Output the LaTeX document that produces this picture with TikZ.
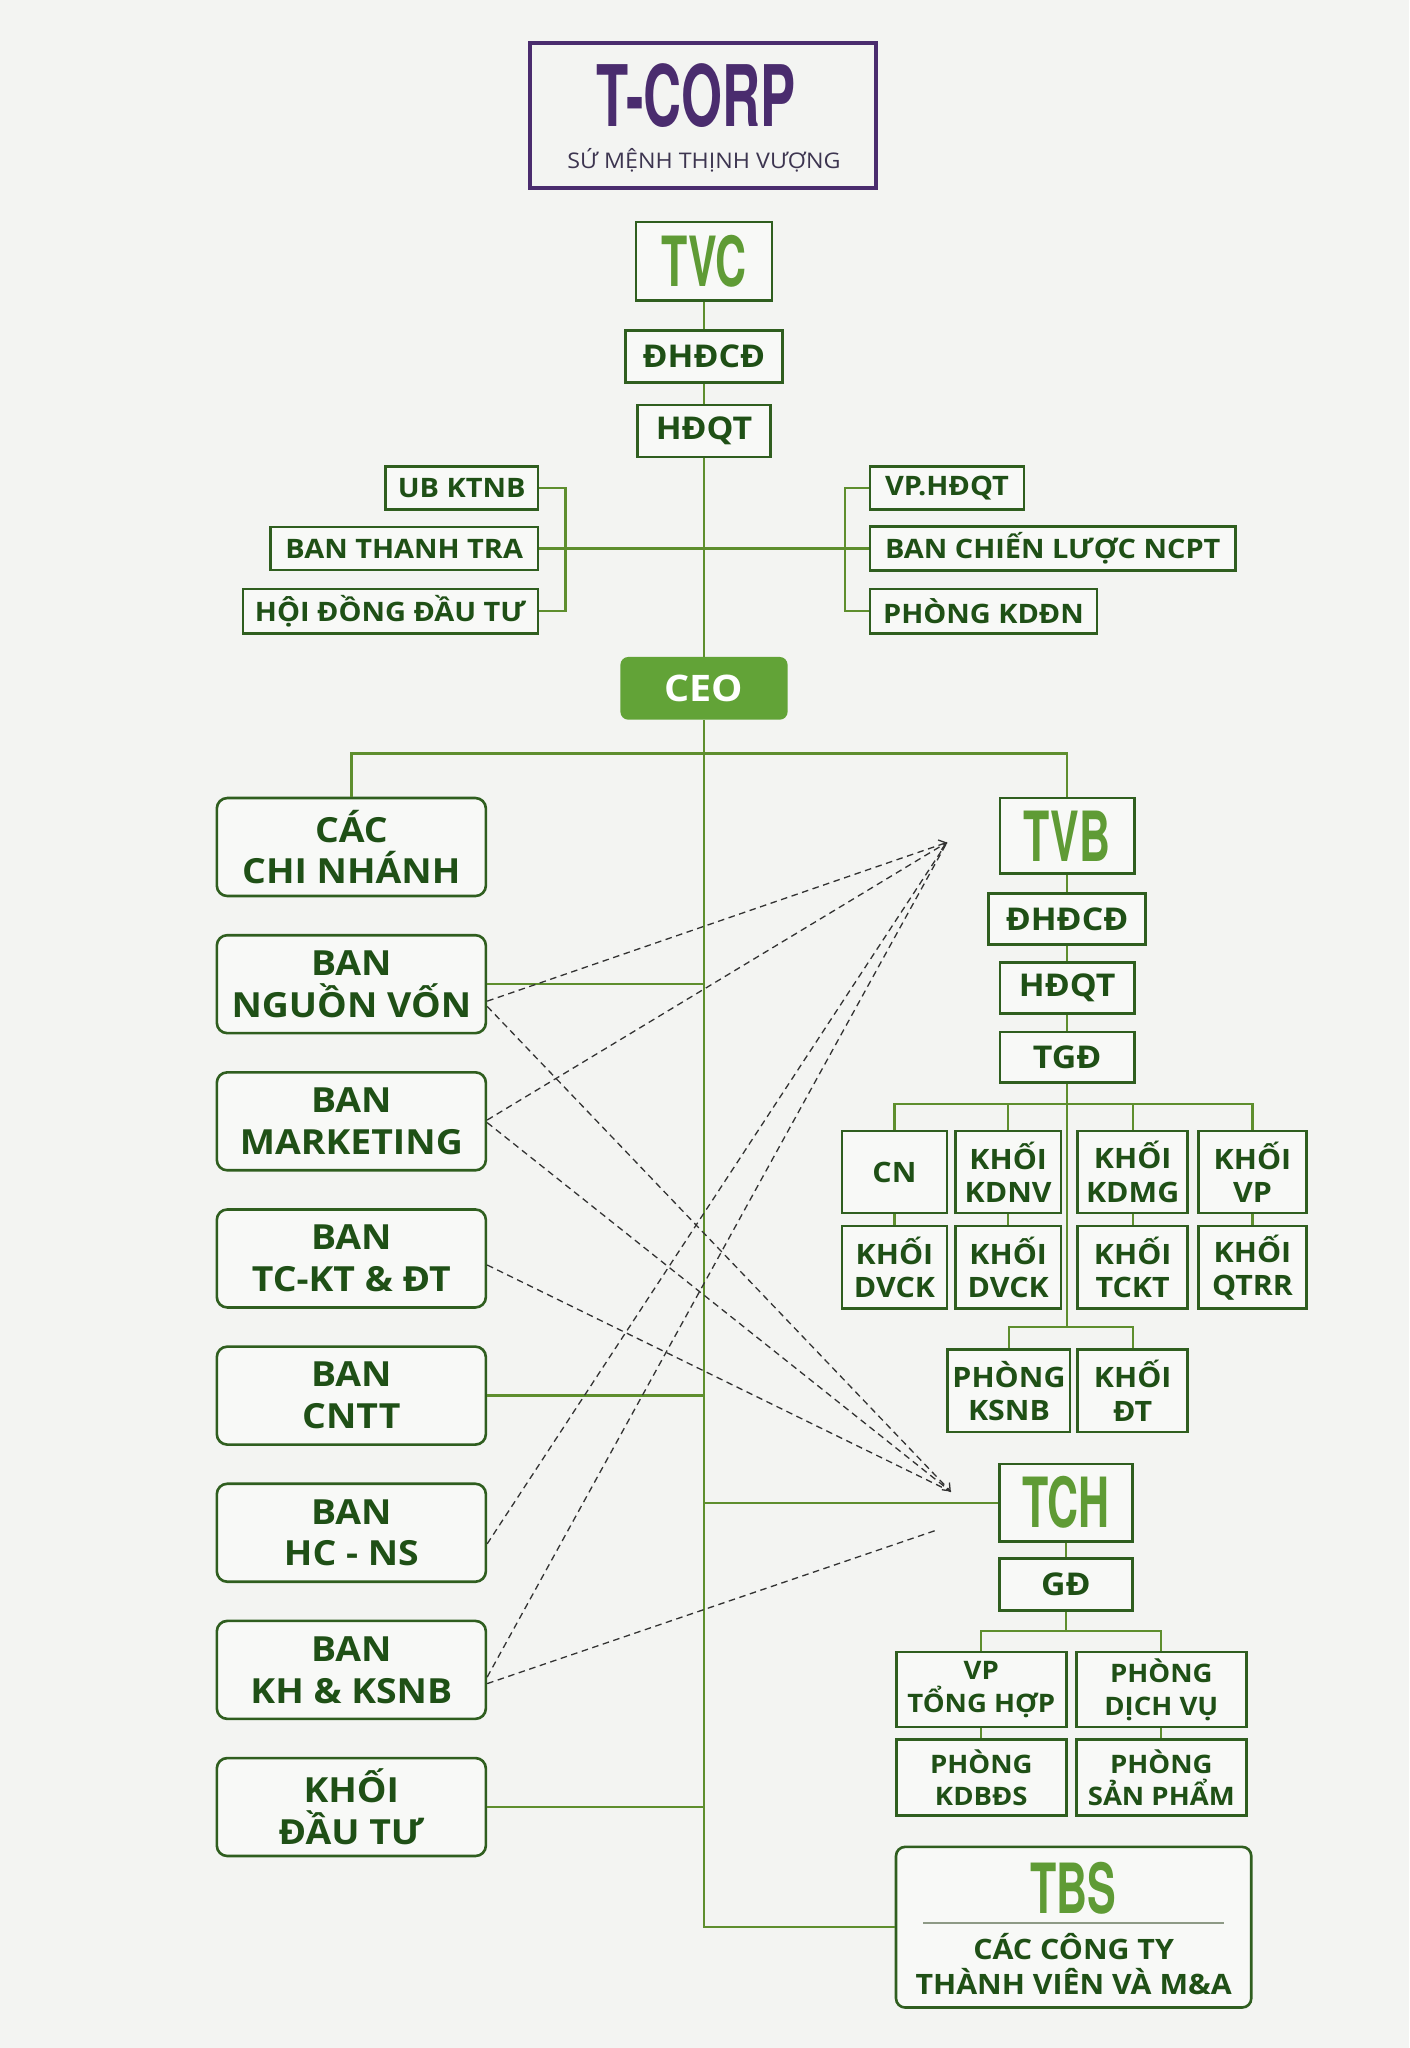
\documentclass[tikz,border=0pt]{standalone}
\usepackage{fontspec}
\usetikzlibrary{arrows.meta,calc}
\newfontfamily\lblfont{Open Sans}[FakeStretch=1.08]
\newfontfamily\condfont{TeX Gyre Heros}[FakeStretch=0.62]
\definecolor{bgc}{HTML}{F3F4F2}
\definecolor{boxfill}{HTML}{F8F9F7}
\definecolor{boxc}{HTML}{2F5E1F}
\definecolor{linec}{HTML}{5E8E2E}
\definecolor{txtc}{HTML}{1F5016}
\definecolor{bigc}{HTML}{5F9B35}
\definecolor{ceoc}{HTML}{62A337}
\definecolor{purp}{HTML}{4A2C6E}
\definecolor{subc}{HTML}{3D3550}
\definecolor{dashc}{HTML}{333333}
\definecolor{sepc}{HTML}{8E9A86}
\begin{document}
\begin{tikzpicture}[x=1pt,y=-1pt,
 box/.style={draw=boxc,line width=2pt,fill=boxfill,inner sep=0pt,align=center,text=txtc},
 rbox/.style={box,rounded corners=8pt},
 fsmall/.style={font=\lblfont\bfseries\fontsize{20.5}{25}\selectfont},
 fmid/.style={font=\lblfont\bfseries\fontsize{24}{28}\selectfont},
 fbig/.style={font=\lblfont\bfseries\fontsize{26.5}{32}\selectfont},
 fsub/.style={font=\lblfont\bfseries\fontsize{21.5}{25.5}\selectfont},
 ftch/.style={font=\lblfont\bfseries\fontsize{19.5}{25}\selectfont},
 fcond/.style={font=\condfont\bfseries\fontsize{53}{53}\selectfont,text=bigc},
 conn/.style={draw=linec,line width=1.8pt},
 dsh/.style={draw=dashc,line width=1pt,dash pattern=on 5pt off 3.5pt},
 tip/.style={-{Straight Barb[length=5pt,width=8pt,line width=1pt]}},
]
\fill[bgc] (0,0) rectangle (1079,1568);
\useasboundingbox (0,0) rectangle (1079,1568);

% ---------- T-CORP ----------
\node[draw=purp,line width=3pt,minimum width=265pt,minimum height=111pt,inner sep=0pt] (tcorp) at (538.5,88.5) {};
\node[font=\condfont\bfseries\fontsize{65}{65}\selectfont,text=purp,inner sep=0pt,anchor=base] (tcorptext) at (533,97) {T-CORP};
\node[font=\lblfont\fontsize{16.5}{16.5}\selectfont,text=subc,inner sep=0pt,anchor=base] (tcorpsub) at (539,129) {SỨ MỆNH THỊNH VƯỢNG};

% ---------- TVC chain ----------
\node[box,fcond,minimum width=104pt,minimum height=60pt] (tvc) at (539,200) {TVC};
\node[box,fmid,minimum width=120pt,minimum height=40pt] (dhdcd1) at (539,273) {ĐHĐCĐ};
\node[box,fmid,minimum width=102pt,minimum height=40pt] (hdqt1) at (539,330) {HĐQT};

\node[box,fsmall,minimum width=117pt,minimum height=33pt] (ubktnb) at (353.5,373.5) {UB KTNB};
\node[box,fsmall,minimum width=205pt,minimum height=33pt] (btt) at (309.5,420) {BAN THANH TRA};
\node[box,fsmall,minimum width=226pt,minimum height=34pt] (hddt) at (299,468) {HỘI ĐỒNG ĐẦU TƯ};
\node[box,fsmall,minimum width=118pt,minimum height=33pt] (vphdqt) at (725,373.5) {VP.HĐQT};
\node[box,fsmall,minimum width=280pt,minimum height=34pt] (bcl) at (806,420) {BAN CHIẾN LƯỢC NCPT};
\node[box,fsmall,minimum width=174pt,minimum height=34pt] (kddn) at (753,468) {PHÒNG KDĐN};

\node[fill=ceoc,rounded corners=6pt,minimum width=128pt,minimum height=48pt,inner sep=0pt,text=white,font=\lblfont\bfseries\fontsize{28}{28}\selectfont] (ceo) at (539,527) {CEO};

% ---------- left column ----------
\node[rbox,fbig,minimum width=206pt,minimum height=75pt] (cnh) at (269,648.5) {CÁC\\CHI NHÁNH};
\node[rbox,fbig,minimum width=206pt,minimum height=75pt] (nv) at (269,753.5) {BAN\\NGUỒN VỐN};
\node[rbox,fbig,minimum width=206pt,minimum height=75pt] (mk) at (269,858.5) {BAN\\MARKETING};
\node[rbox,fbig,minimum width=206pt,minimum height=75pt] (tckt) at (269,963.5) {BAN\\TC-KT \& ĐT};
\node[rbox,fbig,minimum width=206pt,minimum height=75pt] (cntt) at (269,1068.5) {BAN\\CNTT};
\node[rbox,fbig,minimum width=206pt,minimum height=75pt] (hcns) at (269,1173.5) {BAN\\HC - NS};
\node[rbox,fbig,minimum width=206pt,minimum height=75pt] (khk) at (269,1278.5) {BAN\\KH \& KSNB};
\node[rbox,fbig,minimum width=206pt,minimum height=75pt] (kdtu) at (269,1383.5) {KHỐI\\ĐẦU TƯ};

% ---------- TVB ----------
\node[box,fcond,minimum width=103pt,minimum height=58pt] (tvb) at (817,640) {TVB};
\node[box,fmid,minimum width=120pt,minimum height=39pt] (dhdcd2) at (817,703.5) {ĐHĐCĐ};
\node[box,fmid,minimum width=103pt,minimum height=39pt] (hdqt2) at (817,756.5) {HĐQT};
\node[box,fmid,minimum width=103pt,minimum height=39pt] (tgd) at (817,809.5) {TGĐ};

\node[box,fsub,minimum width=80.4pt,minimum height=62.7pt] (cn) at (684.8,897.3) {CN};
\node[box,fsub,minimum width=81pt,minimum height=62.7pt] (kdnv) at (771.9,897.3) {KHỐI\\KDNV};
\node[box,fsub,minimum width=84.3pt,minimum height=62.7pt] (kdmg) at (867.2,897.3) {KHỐI\\KDMG};
\node[box,fsub,minimum width=82.3pt,minimum height=62.7pt] (kvp) at (958.9,897.3) {KHỐI\\VP};
\node[box,fsub,minimum width=80.4pt,minimum height=63.4pt] (dvck1) at (684.8,970.3) {KHỐI\\DVCK};
\node[box,fsub,minimum width=81pt,minimum height=63.4pt] (dvck2) at (771.9,970.3) {KHỐI\\DVCK};
\node[box,fsub,minimum width=84.3pt,minimum height=63.4pt] (tckt2) at (867.2,970.3) {KHỐI\\TCKT};
\node[box,fsub,minimum width=82.3pt,minimum height=63.4pt] (qtrr) at (958.9,970.3) {KHỐI\\QTRR};
\node[box,fsub,minimum width=93.7pt,minimum height=63.1pt] (ksnb) at (772.5,1064.9) {PHÒNG\\KSNB};
\node[box,fsub,minimum width=84.3pt,minimum height=63.1pt] (kdt) at (867.2,1064.9) {KHỐI\\ĐT};

% ---------- TCH ----------
\node[box,fcond,minimum width=102pt,minimum height=59pt] (tch) at (816,1150.5) {TCH};
\node[box,fmid,minimum width=102pt,minimum height=40pt] (gd) at (816,1213) {GĐ};
\node[box,ftch,minimum width=130.2pt,minimum height=57.4pt] (vpth) at (751.3,1293.6) {VP\\TỔNG HỢP};
\node[box,ftch,minimum width=130.2pt,minimum height=57.4pt] (pdv) at (889.1,1293.6) {PHÒNG\\DỊCH VỤ};
\node[box,ftch,minimum width=130.2pt,minimum height=58pt] (kdbds) at (751.3,1361) {PHÒNG\\KDBĐS};
\node[box,ftch,minimum width=130.2pt,minimum height=58pt] (psp) at (889.1,1361) {PHÒNG\\SẢN PHẨM};

% ---------- TBS ----------
\node[box,rounded corners=7pt,minimum width=272pt,minimum height=123pt] (tbs) at (822,1475.5) {};
\node[font=\condfont\bfseries\fontsize{53}{53}\selectfont,text=bigc,inner sep=0pt,anchor=base] (tbstitle) at (822,1465) {TBS};
\draw[sepc,line width=1.3pt] (707,1472.5) -- (937,1472.5);
\node[font=\lblfont\bfseries\fontsize{21.5}{27}\selectfont,text=txtc,align=center,inner sep=0pt,anchor=north] (tbssub) at (822,1480) {CÁC CÔNG TY\\THÀNH VIÊN VÀ M\&A};

% ---------- connectors ----------
\coordinate (spineend) at (tbs.west -| ceo.south);
\draw[conn] (tvc) -- (dhdcd1);
\draw[conn] (dhdcd1) -- (hdqt1);
\draw[conn] (hdqt1) -- (ceo);
\draw[conn] (ceo.south) -- (spineend) -- (tbs.west);
\draw[conn] (btt.east) -- (bcl.west);
\draw[conn] (ubktnb.east) -- ++(20,0) |- (hddt.east);
\draw[conn] (vphdqt.west) -- ++(-18,0) |- (kddn.west);
\draw[conn] (cnh.north) -- ++(0,-33) -| (tvb.north);
\draw[conn] (nv.east) -- (nv.east -| ceo.south);
\draw[conn] (cntt.east) -- (cntt.east -| ceo.south);
\draw[conn] (kdtu.east) -- (kdtu.east -| ceo.south);
\draw[conn] (tch.west) -- (tch.west -| ceo.south);

\draw[conn] (tvb) -- (dhdcd2);
\draw[conn] (dhdcd2) -- (hdqt2);
\draw[conn] (hdqt2) -- (tgd);
\draw[conn] (tgd.south) -- ++(0,15) coordinate (hb);
\draw[conn] (cn.north) -- (cn.north |- hb) -- (kvp.north |- hb) -- (kvp.north);
\draw[conn] (kdnv.north) -- (kdnv.north |- hb);
\draw[conn] (kdmg.north) -- (kdmg.north |- hb);
\draw[conn] (hb) -- ++(0,171) coordinate (hb2);
\draw[conn] (ksnb.north) -- (ksnb.north |- hb2) -- (kdt.north |- hb2) -- (kdt.north);
\draw[conn] (cn) -- (dvck1);
\draw[conn] (kdnv) -- (dvck2);
\draw[conn] (kdmg) -- (tckt2);
\draw[conn] (kvp) -- (qtrr);

\draw[conn] (tch) -- (gd);
\draw[conn] (gd.south) -- ++(0,14.5) coordinate (hc);
\draw[conn] (vpth.north) -- (vpth.north |- hc) -- (pdv.north |- hc) -- (pdv.north);
\draw[conn] (vpth) -- (kdbds);
\draw[conn] (pdv) -- (psp);

% ---------- dashed links ----------
\coordinate (tvbtip) at (725,645);
\coordinate (tchtip) at (728,1142);
\coordinate (khend) at (718.5,1171);
\draw[dsh,tip] ($(nv.east)+(0,13)$) -- (tvbtip);
\draw[dsh] ($(mk.east)+(0,-1)$) -- (tvbtip);
\draw[dsh] ($(hcns.east)+(0,8.5)$) -- (tvbtip);
\draw[dsh] ($(khk.east)+(0,5.5)$) -- (tvbtip);
\draw[dsh,tip] ($(nv.east)+(0,17)$) -- (tchtip);
\draw[dsh] ($(mk.east)+(0,1)$) -- (tchtip);
\draw[dsh] ($(tckt.east)+(0,5)$) -- (tchtip);
\draw[dsh] ($(khk.east)+(0,10.5)$) -- (khend);
\end{tikzpicture}
\end{document}
